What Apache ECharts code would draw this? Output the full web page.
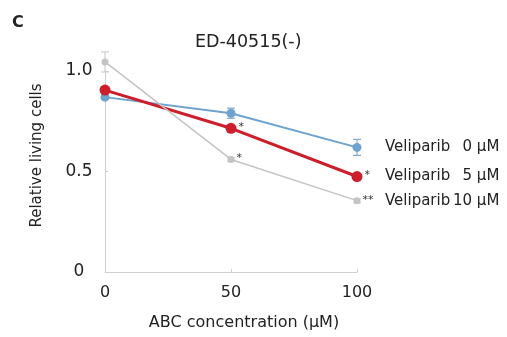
<!DOCTYPE html>
<html>
<head>
<meta charset="utf-8">
<script src="https://cdn.jsdelivr.net/npm/echarts@6/dist/echarts.min.js"></script>
<style>html,body{margin:0;padding:0;background:#fff;}#c{width:507px;height:337px;}</style>
</head>
<body>
<div id="c"></div>
<script>
const concentrations = [0, 50, 100];
const seriesNames = ['Veliparib 0 µM', 'Veliparib 5 µM', 'Veliparib 10 µM'];
const doseLabels = ['0 µM', '5 µM', '10 µM'];
const vel0 = [0.87, 0.79, 0.62];
const vel5 = [0.905, 0.715, 0.475];
const vel10 = [1.045, 0.56, 0.355];
const err0 = [0.01, 0.025, 0.04];
const err5 = [0.01, 0.012, 0.01];
const err10 = [0.05, 0.01, 0.01];
const sig0 = ['', '', ''];
const sig5 = ['', '*', '*'];
const sig10 = ['', '*', '**'];
const yTicks = [0, 0.5, 1.0];
const yTickLabels = ['0', '0.5', '1.0'];

const FONT = 'DejaVu Sans';
const colors = ['#6ea2cf', '#cc1f2b', '#c4c4c4'];
const errColors = ['#7fa9cc', '#d66a70', '#cfcfcf'];
const vals = [vel0, vel5, vel10];
const errs = [err0, err5, err10];
const sigs = [sig0, sig5, sig10];
const widths = [2, 3, 1.5];
const sizes = [9, 11, 7];

const chart = echarts.init(document.getElementById('c'), null, {renderer: 'canvas'});

function padDose(s) {
  return s.length < 5 ? '  ' + s : s;
}

const series = [];
[2, 0, 1].forEach(function (i) {
  series.push({
    type: 'custom',
    name: seriesNames[i] + ' err',
    z: 1,
    silent: true,
    data: concentrations.map(function (c, k) { return [c, vals[i][k], errs[i][k]]; }),
    renderItem: function (params, api) {
      const x = api.value(0), y = api.value(1), e = api.value(2);
      const t = api.coord([x, y + e]);
      const b = api.coord([x, y - e]);
      const st = {stroke: errColors[i], lineWidth: 1.2};
      return {type: 'group', children: [
        {type: 'line', shape: {x1: t[0], y1: t[1], x2: b[0], y2: b[1]}, style: st},
        {type: 'line', shape: {x1: t[0] - 4, y1: t[1], x2: t[0] + 4, y2: t[1]}, style: st},
        {type: 'line', shape: {x1: b[0] - 4, y1: b[1], x2: b[0] + 4, y2: b[1]}, style: st}
      ]};
    }
  });
  series.push({
    type: 'line',
    name: seriesNames[i],
    z: 2 + i,
    clip: false,
    symbol: 'circle',
    symbolSize: sizes[i],
    lineStyle: {color: colors[i], width: widths[i]},
    itemStyle: {color: colors[i]},
    data: concentrations.map(function (c, k) {
      return {
        value: [c, vals[i][k]],
        label: {
          show: sigs[i][k] !== '',
          formatter: sigs[i][k],
          position: 'right',
          distance: 2,
          offset: [0, -1],
          color: '#333',
          fontSize: 11,
          fontFamily: FONT
        }
      };
    }),
    endLabel: {
      show: true,
      distance: 28,
      fontFamily: FONT,
      fontSize: 15,
      color: '#222',
      formatter: function () { return '{n|Veliparib}{d|' + padDose(doseLabels[i]) + '}'; },
      rich: {
        n: {fontFamily: FONT, fontSize: 15, color: '#222', width: 68},
        d: {fontFamily: FONT, fontSize: 15, color: '#222'}
      }
    }
  });
});

chart.setOption({
  animation: false,
  backgroundColor: '#ffffff',
  title: [
    {text: 'ED-40515(-)', left: 190, top: 28,
     textStyle: {fontFamily: FONT, fontSize: 17.5, fontWeight: 'normal', color: '#222'}},
    {text: 'C', left: 7, top: 10,
     textStyle: {fontFamily: FONT, fontSize: 16, fontWeight: 'bold', color: '#222'}}
  ],
  grid: {left: 105, right: 150, top: 71, bottom: 65},
  xAxis: {
    type: 'value', min: 0, max: 100, interval: 50,
    name: 'ABC concentration (µM)', nameLocation: 'middle', nameGap: 43,
    nameTextStyle: {fontFamily: FONT, fontSize: 16, color: '#222', padding: [0, 0, 0, 26]},
    axisLine: {lineStyle: {color: '#cfcfcf', width: 1}},
    axisTick: {show: true, length: 3, inside: true, lineStyle: {color: '#cfcfcf'}},
    axisLabel: {fontFamily: FONT, fontSize: 16, color: '#222', margin: 13},
    splitLine: {show: false}
  },
  yAxis: {
    type: 'value', min: 0, max: 1.0, interval: 0.5,
    name: 'Relative living cells', nameLocation: 'middle', nameGap: 60, nameRotate: 90,
    nameTextStyle: {fontFamily: FONT, fontSize: 15, color: '#222', padding: [0, 0, 0, 32]},
    axisLine: {show: true, lineStyle: {color: '#cfcfcf', width: 1}},
    axisTick: {show: true, length: 3, inside: true, lineStyle: {color: '#cfcfcf'}},
    axisLabel: {
      fontFamily: FONT, fontSize: 17, color: '#222', margin: 26, align: 'center',
      formatter: function (v) {
        const k = yTicks.findIndex(function (t) { return Math.abs(t - v) < 1e-9; });
        return k >= 0 ? yTickLabels[k] : '';
      }
    },
    splitLine: {show: false}
  },
  series: series
});
</script>
</body>
</html>
